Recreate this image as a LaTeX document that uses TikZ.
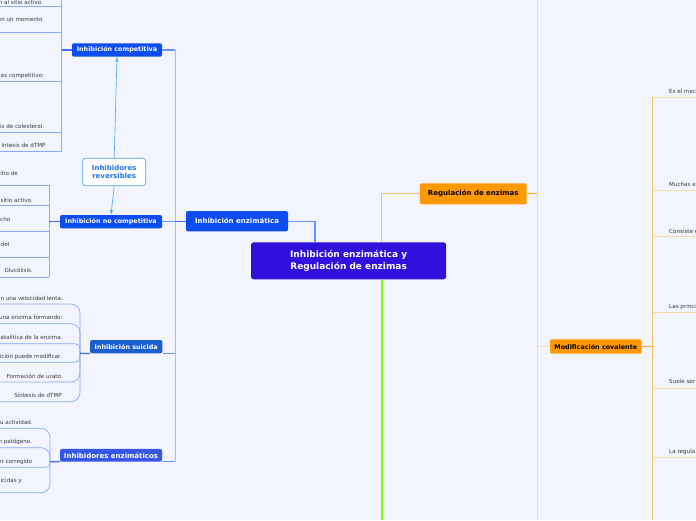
\documentclass[tikz,border=0pt]{standalone}
\usepackage{fontspec}
\setmainfont{DejaVu Sans}
\usetikzlibrary{positioning}
\definecolor{paper}{HTML}{F2F5FD}
\definecolor{rootblue}{HTML}{2F10DC}
\definecolor{topicblue}{HTML}{0D4CF0}
\definecolor{suicblue}{HTML}{1A5FCF}
\definecolor{enzblue}{HTML}{3556E8}
\definecolor{linkblue}{HTML}{3F6DFF}
\definecolor{softblue}{HTML}{6B90FF}
\definecolor{twigblue}{HTML}{8AA8FF}
\definecolor{paleblue}{HTML}{A4BCFF}
\definecolor{skyblue}{HTML}{4EA3FF}
\definecolor{revtext}{HTML}{1F74E8}
\definecolor{orng}{HTML}{FF9900}
\definecolor{orngline}{HTML}{FFA424}
\definecolor{orngmid}{HTML}{FFBF66}
\definecolor{peach}{HTML}{FFD8A8}
\definecolor{lime}{HTML}{80FF00}
\definecolor{ink}{HTML}{3A3A3A}
\tikzset{
	central/.style={rectangle, rounded corners=2.5pt, fill=rootblue, text=white, align=center, inner sep=0pt, minimum width=195pt, minimum height=37pt, font=\bfseries\fontsize{9}{11.5}\selectfont},
	topic/.style={rectangle, rounded corners=2pt, fill=topicblue, text=white, inner sep=0pt, minimum height=13.4pt, font=\bfseries\fontsize{6.4}{7.5}\selectfont},
	bigtopic/.style={topic, font=\bfseries\fontsize{7}{8}\selectfont},
	otopic/.style={topic, fill=orng, text=black},
	revbox/.style={rectangle, rounded corners=3pt, draw=skyblue, line width=0.7pt, fill=white, text=revtext, align=center, inner sep=0pt, minimum width=63pt, minimum height=27.5pt, font=\bfseries\fontsize{7}{8.3}\selectfont},
	% leaf texts of the branches
	leaf/.style={inner sep=0pt, text=ink, font=\fontsize{5.6}{6.7}\selectfont},
	twig/.style={twigblue, line width=0.7pt},
	stub/.style={linkblue, line width=1.2pt},
	peachline/.style={peach, line width=0.9pt},
	oline/.style={orngline, line width=1.2pt},
}

\begin{document}
\begin{tikzpicture}[x=1pt, y=-1pt]
	\useasboundingbox (0,0) rectangle (696,520);
	\fill[paper] (0,0) rectangle (696,520);
	
	\node (root) [central] at (348.6,260.8) {Inhibición enzimática y\\Regulación de enzimas};
	\node (enz) [bigtopic, minimum width=102pt, minimum height=20.3pt] at (237,221.2) {Inhibición enzimática};
	\node (reg) [otopic, font=\bfseries\fontsize{7}{8}\selectfont, minimum width=106.7pt, minimum height=21pt] at (473.3,193.8) {Regulación de enzimas};
	\node (modcov) [otopic, minimum width=91.7pt, minimum height=14.4pt] at (595.8,346.5) {Modificación covalente};
	
	\node (comp) [topic, minimum width=90pt] at (117,50) {Inhibición competitiva};
	\node (nocomp) [topic, minimum width=102pt] at (111,221.7) {Inhibición no competitiva};
	\node (suic) [topic, fill=suicblue, minimum width=72.3pt, minimum height=13.3pt] at (126.2,346.7) {Inhibición suicida};
	\node (inhenz) [bigtopic, fill=enzblue, minimum width=102pt, minimum height=12.7pt] at (111,455.3) {Inhibidores enzimáticos};
	\node (rev) [revbox] at (114.2,172) {Inhibidores\\reversibles};
	
	% competitiva
	\node (c1) [leaf, anchor=east] at (43.3,2.4) {en al sitio activo.};
	\node (c2) [leaf, anchor=east] at (42.7,20) {en un momento};
	\node (c3) [leaf, anchor=east] at (44.3,76) {es competitivo:};
	\node (c4) [leaf, anchor=east] at (44.3,126) {is de colesterol.};
	\node (c5) [leaf, anchor=east] at (45.7,145.7) {íntesis de dTMP};
	\coordinate (cj) at (61.7,50);
	
	% no competitiva
	\node (n0) [leaf, anchor=east] at (18,173) {itio de};
	\node (n1) [leaf, anchor=east] at (33,200) {sitio activo.};
	\node (n2) [leaf, anchor=east] at (10.5,219) {cho};
	\node (n3) [leaf, anchor=east] at (9.5,244.7) {del};
	\node (n4) [leaf, anchor=east] at (33,270.7) {Glucólisis.};
	\coordinate (nj) at (49.3,221.7);
	
	% suicida
	\node (s1) [leaf, anchor=east] at (63,298) {on una velocidad lenta.};
	\node (s2) [leaf, anchor=east] at (62.7,317.3) {una enzima formando:};
	\node (s3) [leaf, anchor=east] at (62.7,337.3) {catalítica de la enzima.};
	\node (s4) [leaf, anchor=east] at (62,356.7) {ición puede modificar.};
	\node (s5) [leaf, anchor=east] at (63,376) {Formación de urato.};
	\node (s6) [leaf, anchor=east] at (62,395.7) {Síntesis de dTMP};
	\coordinate (sj) at (80,353.3);
	
	% inhibidores enzimaticos
	\node (i1) [leaf, anchor=east] at (33,422.7) {u actividad.};
	\node (i2) [leaf, anchor=east] at (32.3,442.3) {n patógeno.};
	\node (i3) [leaf, anchor=east] at (32.3,462.3) {er corregido};
	\node (i4) [leaf, anchor=east] at (22,481) {icidas y};
	\coordinate (ij) at (50,461.7);
	
	% modificacion covalente
	\node (m1) [leaf, anchor=west] at (669,91) {Es el mec};
	\node (m2) [leaf, anchor=west] at (669,184.3) {Muchas e};
	\node (m3) [leaf, anchor=west] at (669,231) {Consiste e};
	\node (m4) [leaf, anchor=west] at (669,306.7) {Las princip};
	\node (m5) [leaf, anchor=west] at (669,381.8) {Suele ser};
	\node (m6) [leaf, anchor=west] at (669,451.7) {La regula};
	
	\coordinate (trunkT) at (175,50);
	\coordinate (trunkB) at (175,461.7);
	\coordinate (rtop) at (537.3,0);
	\coordinate (rbot) at (537.3,520);
	\coordinate (mtop) at (652.7,97);
	\coordinate (mbot) at (652.7,520);
	\coordinate (gend) at (381.6,520);
	
	\draw[paleblue, line width=0.8pt] (trunkT) -- (trunkB);
	\draw[twig] (61.7,0) -- (61.7,151);
	\draw[twig] (0,6) -- (61.7,6);
	\draw[twig] (0,32.3) -- (61.7,32.3);
	\draw[twig] (0,81.7) -- (61.7,81.7);
	\draw[twig] (0,132) -- (61.7,132);
	\draw[twig] (0,151) -- (61.7,151);
	
	\draw[twig] (49.3,185.3) -- (49.3,277.3);
	\draw[twig] (0,185.3) -- (49.3,185.3);
	\draw[twig] (0,205.3) -- (49.3,205.3);
	\draw[twig] (0,231.7) -- (49.3,231.7);
	\draw[twig] (0,257.7) -- (49.3,257.7);
	\draw[twig] (0,277.3) -- (49.3,277.3);
	
	\draw[twig, rounded corners=9pt] (0,304) -| (sj);
	\draw[twig, rounded corners=9pt] (0,323.7) -| (sj);
	\draw[twig, rounded corners=5pt] (0,343.7) -| (sj);
	\draw[twig, rounded corners=5pt] (0,362.3) -| (sj);
	\draw[twig, rounded corners=9pt] (0,382) -| (sj);
	\draw[twig, rounded corners=9pt] (0,401.7) -| (sj);
	
	\draw[twig, rounded corners=9pt] (0,428.3) -| (ij);
	\draw[twig, rounded corners=9pt] (0,447.7) -| (ij);
	\draw[twig, rounded corners=4pt] (0,467.3) -| (ij);
	\draw[twig, rounded corners=9pt] (0,492.7) -| (ij);
	
	\draw[peachline] (rtop) -- (rbot);
	\draw[orngmid, line width=0.9pt] (mtop) -- (mbot);
	\draw[peachline] (652.7,97) -- (696,97);
	\draw[peachline] (652.7,190.3) -- (696,190.3);
	\draw[peachline] (652.7,236.7) -- (696,236.7);
	\draw[peachline] (652.7,312.3) -- (696,312.3);
	\draw[peachline] (652.7,388.3) -- (696,388.3);
	\draw[peachline] (652.7,457.7) -- (696,457.7);
	
	\begin{scope}[stub]
		\draw[softblue] (enz.east) -| ([xshift=-33.6pt]root.north);
		\draw (enz.west) -- (enz.west -| trunkT);
		\draw[softblue] (comp.east) -- (comp.east -| trunkT);
		\draw[softblue] (nocomp.east) -- (nocomp.east -| trunkT);
		\draw[softblue] (suic.south east) -- (suic.south east -| trunkT);
		\draw[softblue] (inhenz.south east) -- (inhenz.south east -| trunkT);
		\draw (comp.west) -- (cj);
		\draw (nocomp.west) -- (nj);
		\draw (suic.south west) -- (sj);
		\draw (inhenz.south west) -- (ij);
	\end{scope}
	
	\draw[orngmid, line width=1.2pt] (reg.west) -| ([xshift=32.8pt]root.north);
	\draw[oline] (reg.east) -- (reg.east -| rtop);
	\draw[peachline, line width=1.2pt] (modcov.west -| rtop) -- (modcov.west);
	\draw[oline] (modcov.east) -- (modcov.east -| mtop);
	\draw[lime, line width=2pt] ([xshift=33pt]root.south) -- (gend);
	
	\begin{scope}[skyblue, line width=0.6pt, ->, >=latex]
		\draw (rev.north) -- (comp.south);
		\draw (rev.south) -- (nocomp.north);
	\end{scope}
\end{tikzpicture}
\end{document}
